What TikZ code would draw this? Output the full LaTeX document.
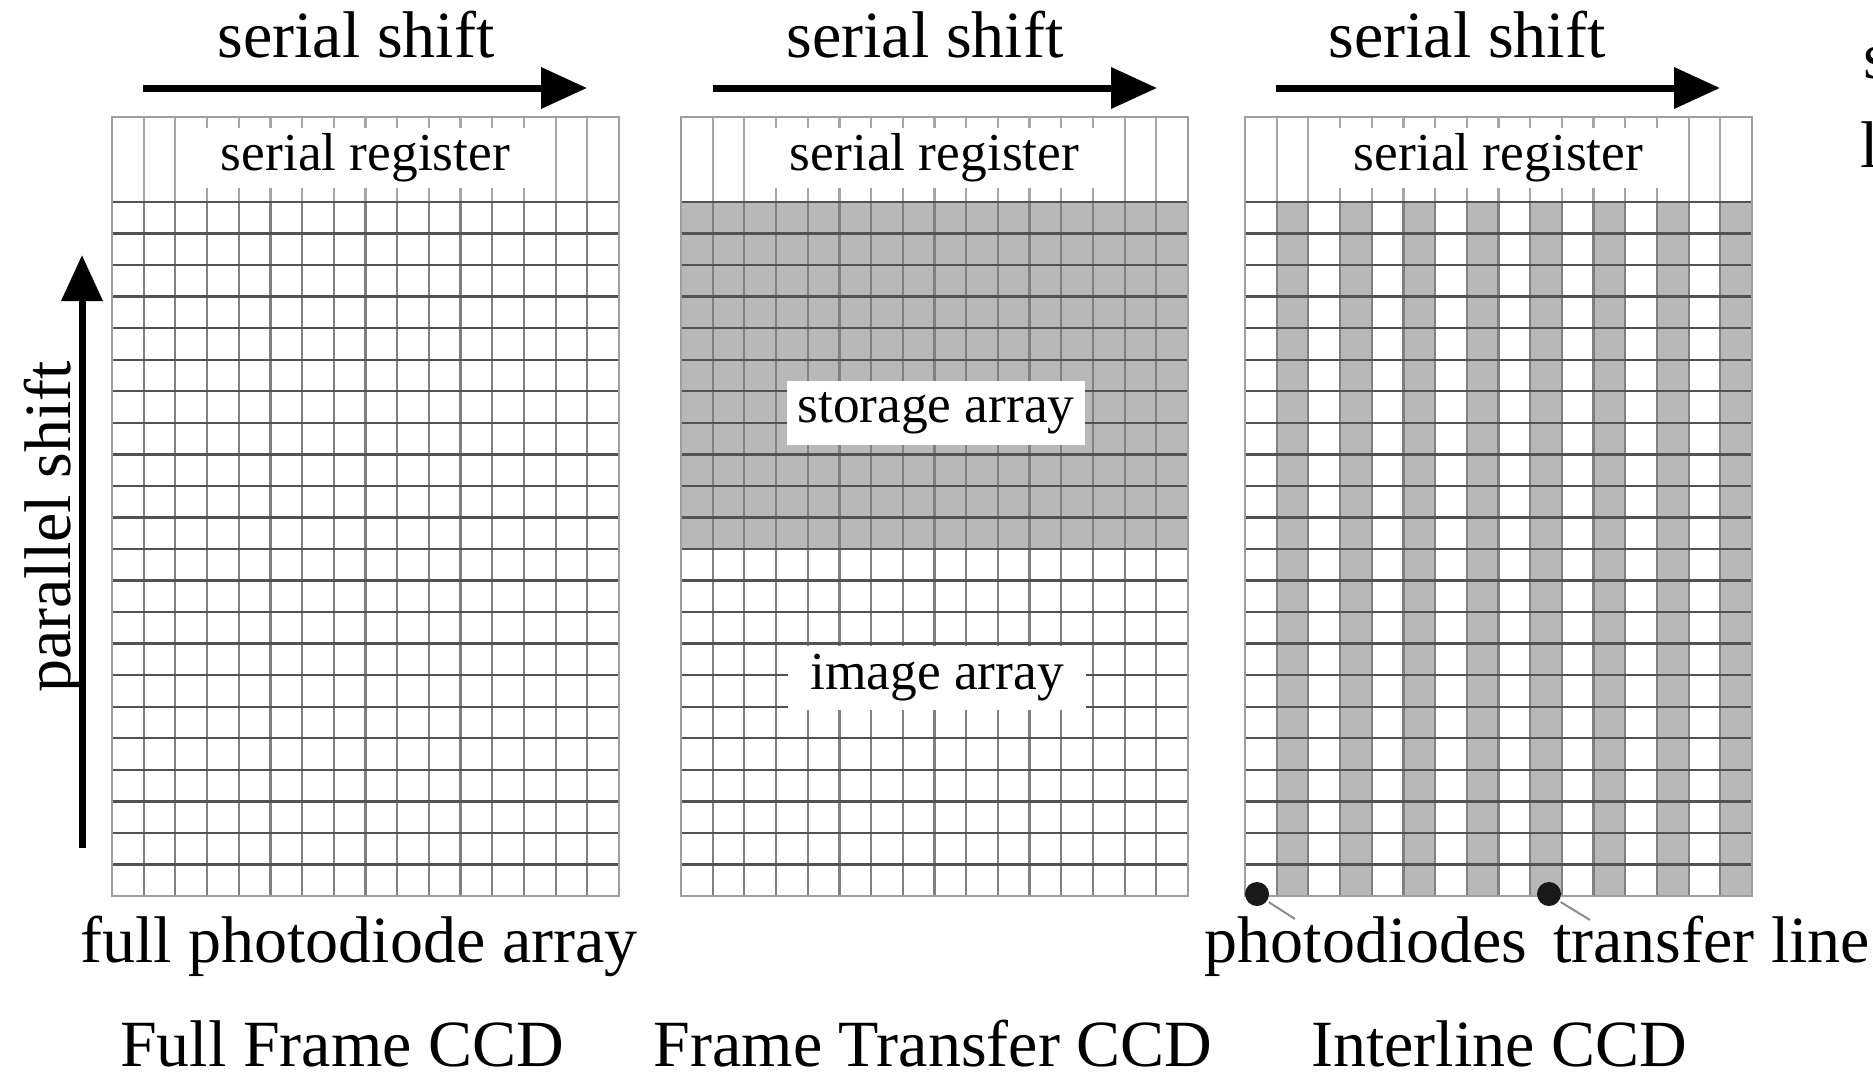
\documentclass[tikz,border=0pt]{standalone}
\usepackage{fontspec}
\setmainfont{Liberation Serif}
\usetikzlibrary{arrows.meta}
\def\cw{31.6875}
\def\rh{31.545}
\tikzset{
 txtbig/.style={font=\fontsize{66}{70}\selectfont, inner sep=0pt},
 txtsmall/.style={font=\fontsize{53.4}{56}\selectfont},
 regline/.style={draw=black!35, line width=2.2pt},
 vline/.style={draw=black!50, line width=2.2pt},
 hline/.style={draw=black!68, line width=2.4pt},
 frameline/.style={draw=black!38, line width=2.4pt},
 grayfill/.style={fill=black!28},
 shiftarrow/.style={line width=7pt, -{Triangle[length=46pt,width=40pt]}},
 regbox/.style={txtsmall, fill=white, inner sep=0pt, minimum width=348pt, minimum height=60pt},
 areabox/.style={txtsmall, fill=white, inner sep=0pt, minimum width=298pt, minimum height=64pt},
 diodedot/.style={circle, fill=black!90, inner sep=0pt, minimum size=24pt},
 leaderline/.style={draw=black!45, line width=2pt},
}
\newcommand\serialpart[2]{%
  \foreach \i in {1,...,15} \draw[regline] ({#1+\i*\cw},117) -- ({#1+\i*\cw},202);
  \node[regbox] (#2reg) at ({#1+253.5},158) {serial register};
}
\newcommand\gridpart[1]{%
  \foreach \i in {1,...,15} \draw[vline] ({#1+\i*\cw},202) -- ({#1+\i*\cw},896);
  \foreach \j in {0,...,21} \draw[hline] (#1,{202+\j*\rh}) -- ({#1+507},{202+\j*\rh});
  \draw[frameline] (#1,117) rectangle ({#1+507},896);
}
\begin{document}
\begin{tikzpicture}[x=1pt,y=-1pt]
\useasboundingbox (0,0) rectangle (1873,1073);
\clip (0,0) rectangle (1873,1073);
\fill[white] (0,0) rectangle (1873,1073);

% fills
\fill[grayfill] (681,202) rectangle (1188,{202+11*\rh});
\foreach \k in {1,3,...,15} \fill[grayfill] ({1245+\k*\cw},202) rectangle ({1245+(\k+1)*\cw},896);

% panels
\serialpart{112}{a}
\serialpart{681}{b}
\serialpart{1245}{c}
\gridpart{112}
\gridpart{681}
\gridpart{1245}

% area labels
\node[areabox] (storage) at (936,413) {storage array};
\node[areabox] (image) at (937,678) {image array};

% serial shift arrows and labels
\node[txtbig, anchor=base] (ss1) at (356,58) {serial shift};
\node[txtbig, anchor=base] (ss2) at (925,58) {serial shift};
\node[txtbig, anchor=base] (ss3) at (1467,58) {serial shift};
\coordinate (a1s) at (143,88); \coordinate (a1e) at (587,88);
\coordinate (a2s) at (713,88); \coordinate (a2e) at (1157,88);
\coordinate (a3s) at (1276,88); \coordinate (a3e) at (1720,88);
\draw[shiftarrow] (a1s) -- (a1e);
\draw[shiftarrow] (a2s) -- (a2e);
\draw[shiftarrow] (a3s) -- (a3e);

% parallel shift
\coordinate (ps) at (82,848); \coordinate (pe) at (82,255);
\draw[shiftarrow] (ps) -- (pe);
\node[txtbig, rotate=90, anchor=base] (par) at (70,527) {parallel shift};

% bottom labels
\node[txtbig, anchor=base] (fpa) at (359,962) {full photodiode array};
\node[txtbig, anchor=base] (pdl) at (1366,962) {photodiodes};
\node[txtbig, anchor=base west] (tll) at (1553,962) {transfer line};
\node[diodedot] (pd) at (1257,894) {};
\node[diodedot] (tl) at (1549,894) {};
\coordinate (pdend) at (1295,919);
\coordinate (tlend) at (1590,920);
\draw[leaderline, shorten <=2pt] (pd.-35) -- (pdend);
\draw[leaderline, shorten <=2pt] (tl.-35) -- (tlend);

% titles
\node[txtbig, anchor=base, text depth=0pt] (t1) at (342,1066) {Full Frame CCD};
\node[txtbig, anchor=base, text depth=0pt] (t2) at (933,1066) {Frame Transfer CCD};
\node[txtbig, anchor=base, text depth=0pt] (t3) at (1499,1066) {Interline CCD};

% partially visible text at the right edge
\node[txtbig, anchor=base west] (cut1) at (1863,78) {s};
\node[txtbig, anchor=base west] (cut2) at (1860,167) {l};
\end{tikzpicture}
\end{document}
